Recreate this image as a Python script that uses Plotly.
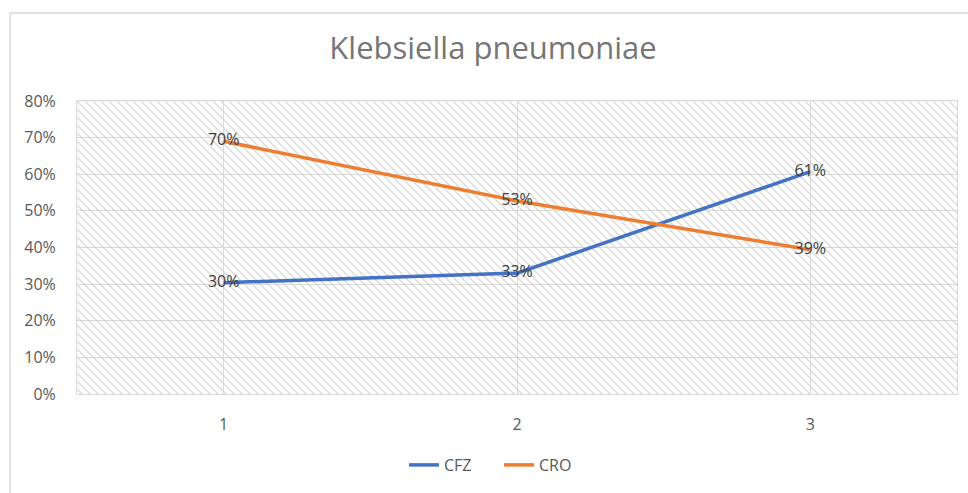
import base64
import plotly.graph_objects as go

# ---- data ----
categories = [1, 2, 3]
cfz_values = [0.304, 0.33, 0.607]
cro_values = [0.69, 0.527, 0.394]
cfz_labels = ["30%", "33%", "61%"]
cro_labels = ["70%", "53%", "39%"]
series_names = ["CFZ", "CRO"]
title_text = "Klebsiella pneumoniae"

W, H = 968, 493
ML, MR, MT, MB = 77, 11, 101, 99
PW, PH = W - ML - MR, H - MT - MB

FONT = "Open Sans"

# hatch background pattern (Excel-like wide downward diagonal)
svg = (
    f'<svg xmlns="http://www.w3.org/2000/svg" width="{PW}" height="{PH}" viewBox="0 0 {PW} {PH}">'
    '<defs><pattern id="p" width="8" height="8" patternUnits="userSpaceOnUse">'
    '<path d="M-2,-2 L10,10 M-2,6 L2,10 M6,-2 L10,2" stroke="#dfdfdf" stroke-width="1.6"/>'
    '</pattern></defs>'
    f'<rect width="{PW}" height="{PH}" fill="white"/>'
    f'<rect width="{PW}" height="{PH}" fill="url(#p)"/></svg>'
)
src = "data:image/svg+xml;base64," + base64.b64encode(svg.encode()).decode()

fig = go.Figure()
fig.add_trace(go.Scatter(
    x=categories, y=cfz_values, name=series_names[0], mode="lines+text",
    line=dict(color="#4472C4", width=3.5),
    text=cfz_labels, textposition="middle center",
    textfont=dict(family=FONT, size=16, color="#404040"),
))
fig.add_trace(go.Scatter(
    x=categories, y=cro_values, name=series_names[1], mode="lines+text",
    line=dict(color="#ED7D31", width=3.5),
    text=cro_labels, textposition="middle center",
    textfont=dict(family=FONT, size=16, color="#404040"),
))

def px_x(p):
    return (p - ML) / PW

def px_y(p):
    return (H - MB - p) / PH

fig.update_layout(
    width=W, height=H,
    margin=dict(l=ML, r=MR, t=MT, b=MB),
    paper_bgcolor="white", plot_bgcolor="white",
    title=dict(text=title_text, x=493 / W, xref="container", xanchor="center",
               y=1 - 48 / H, yref="container", yanchor="middle",
               font=dict(family=FONT, size=31, color="#767676")),
    xaxis=dict(range=[0.5, 3.5], tickvals=categories, ticktext=[str(c) for c in categories],
               showgrid=True, gridcolor="#d9d9d9", gridwidth=1,
               showline=True, linecolor="#d9d9d9", mirror=True, zeroline=False,
               ticks="outside", ticklen=16, tickcolor="rgba(0,0,0,0)",
               tickfont=dict(family=FONT, size=16, color="#595959")),
    yaxis=dict(range=[0, 0.8], dtick=0.1, tickformat=".0%",
               showgrid=True, gridcolor="#d9d9d9", gridwidth=1,
               showline=True, linecolor="#d9d9d9", mirror=True, zeroline=False,
               ticks="outside", ticklen=17, tickcolor="rgba(0,0,0,0)",
               tickfont=dict(family=FONT, size=16, color="#595959")),
    legend=dict(orientation="h", x=px_x(499), xanchor="center", y=px_y(465), yanchor="middle",
                entrywidth=50,
                font=dict(family=FONT, size=16, color="#595959"), bgcolor="rgba(0,0,0,0)"),
    images=[dict(source=src, xref="paper", yref="paper", x=0, y=1, sizex=1, sizey=1,
                 xanchor="left", yanchor="top", sizing="stretch", layer="below")],
    shapes=[
        dict(type="line", xref="paper", yref="paper", x0=px_x(10), x1=px_x(980),
             y0=px_y(13), y1=px_y(13), line=dict(color="#d9d9d9", width=1.5)),
        dict(type="line", xref="paper", yref="paper", x0=px_x(10), x1=px_x(10),
             y0=px_y(13), y1=px_y(500), line=dict(color="#d9d9d9", width=1.5)),
    ],
)

fig.write_html("out.html", config={"displayModeBar": False},
               post_script="document.body.style.margin='0px';")
